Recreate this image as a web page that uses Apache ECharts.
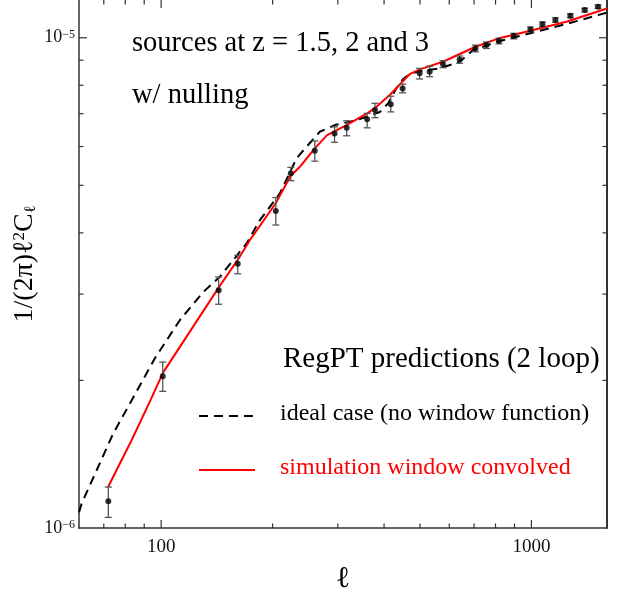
<!DOCTYPE html>
<html>
<head>
<meta charset="utf-8">
<script src="https://cdn.jsdelivr.net/npm/echarts@6/dist/echarts.min.js"></script>
<style>
html,body{margin:0;padding:0;background:#fff;}
#chart{width:618px;height:594px;}
</style>
</head>
<body>
<div id="chart"></div>
<script>
// ---- data ----
const ell = [72,101,143,161,204,224,260,294,317,360,378,417,449,499,531,577,640,706,756,817,896,994,1071,1161,1274,1393,1513];
const cl = [1.134e-6,2.04e-6,3.055e-6,3.46e-6,4.43e-6,5.29e-6,5.88e-6,6.38e-6,6.55e-6,6.82e-6,7.12e-6,7.32e-6,7.88e-6,8.46e-6,8.52e-6,8.83e-6,9.03e-6,9.51e-6,9.66e-6,9.85e-6,1.008e-5,1.040e-5,1.065e-5,1.087e-5,1.109e-5,1.139e-5,1.157e-5];
const errLo = [1.051e-6,1.90e-6,2.86e-6,3.30e-6,4.15e-6,5.11e-6,5.60e-6,6.12e-6,6.31e-6,6.55e-6,6.87e-6,7.06e-6,7.72e-6,8.24e-6,8.33e-6,8.69e-6,8.87e-6,9.36e-6,9.51e-6,9.72e-6,0.995e-5,1.028e-5,1.053e-5,1.076e-5,1.099e-5,1.129e-5,1.148e-5];
const errHi = [1.212e-6,2.18e-6,3.25e-6,3.60e-6,4.72e-6,5.44e-6,6.16e-6,6.58e-6,6.77e-6,7.01e-6,7.35e-6,7.60e-6,8.04e-6,8.66e-6,8.75e-6,8.98e-6,9.18e-6,9.66e-6,9.80e-6,9.98e-6,1.021e-5,1.052e-5,1.077e-5,1.098e-5,1.119e-5,1.149e-5,1.166e-5];

const convEll = [71.9,83.2,93.6,101.2,143.4,160.8,173.6,203.7,223.6,236.9,260.0,280.7,316.7,359.9,377.5,414.4,448.5,469.4,499.4,577.1,706.3,816.2,892.1,1243,1600];
const convCl = [1.212e-6,1.510e-6,1.823e-6,2.075e-6,3.103e-6,3.518e-6,3.865e-6,4.592e-6,5.222e-6,5.455e-6,5.948e-6,6.331e-6,6.636e-6,7.012e-6,7.178e-6,7.640e-6,8.133e-6,8.432e-6,8.620e-6,8.933e-6,9.585e-6,9.972e-6,1.0128e-5,1.0781e-5,1.147e-5];

const idealEll = [60,61.0,74.2,84.0,96.2,112.3,129.8,144.0,170.1,184.8,209.2,232.1,247.0,268.2,294.4,337.0,358.5,389.4,410.1,432.2,450.2,469.4,499.4,565.4,640.4,695.7,821.2,1010,1243,1600];
const idealCl = [1.077e-6,1.122e-6,1.558e-6,1.844e-6,2.220e-6,2.654e-6,3.027e-6,3.253e-6,3.805e-6,4.246e-6,4.813e-6,5.675e-6,5.994e-6,6.430e-6,6.636e-6,6.792e-6,6.900e-6,7.054e-6,7.348e-6,7.895e-6,8.236e-6,8.432e-6,8.551e-6,8.661e-6,8.933e-6,9.438e-6,9.846e-6,1.0247e-5,1.0666e-5,1.1257e-5];

const xMajorTicks = [100,1000];
const xMinorTicks = [70,80,90,200,300,400,500,600,700,800,900];
const yMajorTicks = [1e-5];
const yMinorTicks = [2e-6,3e-6,4e-6,5e-6,6e-6,7e-6,8e-6,9e-6];

const xMin = 60, xMax = 1600, yMin = 1e-6, yMax = 1.194e-5;

const titleLines = ['sources at z = 1.5, 2 and 3','w/ nulling'];
const legendTitle = 'RegPT predictions (2 loop)';
const legendNames = ['ideal case (no window function)','simulation window convolved'];

// ---- build ----
const SERIF = 'Liberation Serif, Times New Roman, serif';
const isDecade = v => Math.abs(Math.log10(v) - Math.round(Math.log10(v))) < 1e-6;
const pair = (a,b) => a.map((v,i)=>[v,b[i]]);

const xTickData = xMajorTicks.map(v=>[v, 2e-6, 1]).concat(xMinorTicks.map(v=>[v, 2e-6, 0]));
const yTickData = yMajorTicks.map(v=>[100, v, 1]).concat(yMinorTicks.map(v=>[100, v, 0]));
const errData = ell.map((v,i)=>[v, errLo[i], errHi[i]]);

const chart = echarts.init(document.getElementById('chart'), null, {renderer:'canvas'});
const axisColor = '#333';

chart.setOption({
  animation:false,
  backgroundColor:'#fff',
  grid:{left:79, right:11, top:0, bottom:66, containLabel:false, outerBoundsMode:'none'},
  xAxis:{
    type:'log', logBase:10, min:xMin, max:xMax,
    axisLine:{show:true, lineStyle:{color:axisColor, width:1.5}},
    axisTick:{show:false}, splitLine:{show:false},
    axisLabel:{
      fontFamily:SERIF, fontSize:19, color:'#111', margin:10,
      formatter: v => isDecade(v) ? String(Math.round(v)) : ''
    },
    name:'ℓ', nameLocation:'middle', nameGap:36, nameMoveOverlap:false,
    nameTextStyle:{fontFamily:SERIF, fontSize:30, color:'#000'}
  },
  yAxis:[{
    type:'log', logBase:10, min:yMin, max:yMax,
    axisLine:{show:true, lineStyle:{color:axisColor, width:1.5}},
    axisTick:{show:false}, splitLine:{show:false},
    axisLabel:{
      margin:4,
      formatter: v => isDecade(v) ? '{n|10}{s|−' + Math.round(-Math.log10(v)) + '}' : '',
      rich:{
        n:{fontFamily:SERIF, fontSize:18, color:'#111'},
        s:{fontFamily:SERIF, fontSize:12, color:'#111', verticalAlign:'top'}
      }
    },
    name:'{a|1/(2π)ℓ}{p|2}{a|C}{b|ℓ}', nameLocation:'middle', nameGap:40, nameRotate:90,
    nameMoveOverlap:false,
    nameTextStyle:{
      rich:{
        a:{fontFamily:SERIF, fontSize:28, color:'#000'},
        p:{fontFamily:SERIF, fontSize:17, color:'#000', verticalAlign:'top'},
        b:{fontFamily:SERIF, fontSize:16, color:'#000', verticalAlign:'bottom'}
      }
    }
  },{
    type:'log', logBase:10, min:yMin, max:yMax, position:'right',
    axisLine:{show:true, lineStyle:{color:axisColor, width:2}},
    axisTick:{show:false}, splitLine:{show:false}, axisLabel:{show:false}
  }],
  series:[
    {
      type:'line', name:legendNames[0], data:pair(idealEll, idealCl),
      showSymbol:false, symbol:'none', z:2,
      lineStyle:{color:'#000', width:2, type:[9,6]}
    },
    {
      type:'line', name:legendNames[1], data:pair(convEll, convCl),
      showSymbol:false, symbol:'none', z:3,
      lineStyle:{color:'#ff0000', width:2}
    },
    {
      type:'custom', name:'errors', data:errData, z:4, silent:true,
      encode:{x:0, y:[1,2]},
      renderItem:function(params, api){
        const x = api.value(0);
        const p1 = api.coord([x, api.value(1)]);
        const p2 = api.coord([x, api.value(2)]);
        const w = 3.5, st = {stroke:'#555', lineWidth:1.3};
        return {type:'group', children:[
          {type:'line', shape:{x1:p1[0], y1:p1[1], x2:p2[0], y2:p2[1]}, style:st},
          {type:'line', shape:{x1:p1[0]-w, y1:p1[1], x2:p1[0]+w, y2:p1[1]}, style:st},
          {type:'line', shape:{x1:p2[0]-w, y1:p2[1], x2:p2[0]+w, y2:p2[1]}, style:st}
        ]};
      }
    },
    {
      type:'scatter', name:'sim', data:pair(ell, cl), z:5,
      symbol:'circle', symbolSize:6, itemStyle:{color:'#000'}
    },
    {
      type:'custom', name:'xticks', data:xTickData, z:6, silent:true,
      encode:{x:0, y:1},
      renderItem:function(params, api){
        const cs = params.coordSys;
        const x = api.coord([api.value(0), 2e-6])[0];
        const len = api.value(2) ? 8 : 4.5;
        const st = {stroke:axisColor, lineWidth:1.2};
        const yb = cs.y + cs.height, yt = cs.y;
        return {type:'group', children:[
          {type:'line', shape:{x1:x, y1:yb, x2:x, y2:yb-len}, style:st},
          {type:'line', shape:{x1:x, y1:yt, x2:x, y2:yt+len}, style:st}
        ]};
      }
    },
    {
      type:'custom', name:'yticks', data:yTickData, z:6, silent:true,
      encode:{x:0, y:1},
      renderItem:function(params, api){
        const cs = params.coordSys;
        const y = api.coord([100, api.value(1)])[1];
        const len = api.value(2) ? 8 : 4.5;
        const st = {stroke:axisColor, lineWidth:1.2};
        const xl = cs.x, xr = cs.x + cs.width;
        return {type:'group', children:[
          {type:'line', shape:{x1:xl, y1:y, x2:xl+len, y2:y}, style:st},
          {type:'line', shape:{x1:xr, y1:y, x2:xr-len, y2:y}, style:st}
        ]};
      }
    }
  ],
  graphic:[
    {type:'text', left:132, top:29, style:{text:titleLines[0], font:'28.5px ' + SERIF, fill:'#000'}},
    {type:'text', left:132, top:81, style:{text:titleLines[1], font:'28.5px ' + SERIF, fill:'#000'}},
    {type:'text', left:283, top:345, style:{text:legendTitle, font:'29px ' + SERIF, fill:'#000'}},
    {type:'line', shape:{x1:199, y1:416, x2:255, y2:416}, style:{stroke:'#000', lineWidth:2, lineDash:[9,6]}},
    {type:'text', left:280, top:402, style:{text:legendNames[0], font:'24px ' + SERIF, fill:'#000'}},
    {type:'line', shape:{x1:199, y1:470, x2:255, y2:470}, style:{stroke:'#ff0000', lineWidth:2}},
    {type:'text', left:280, top:456, style:{text:legendNames[1], font:'24px ' + SERIF, fill:'#ff0000'}}
  ]
});
</script>
</body>
</html>
